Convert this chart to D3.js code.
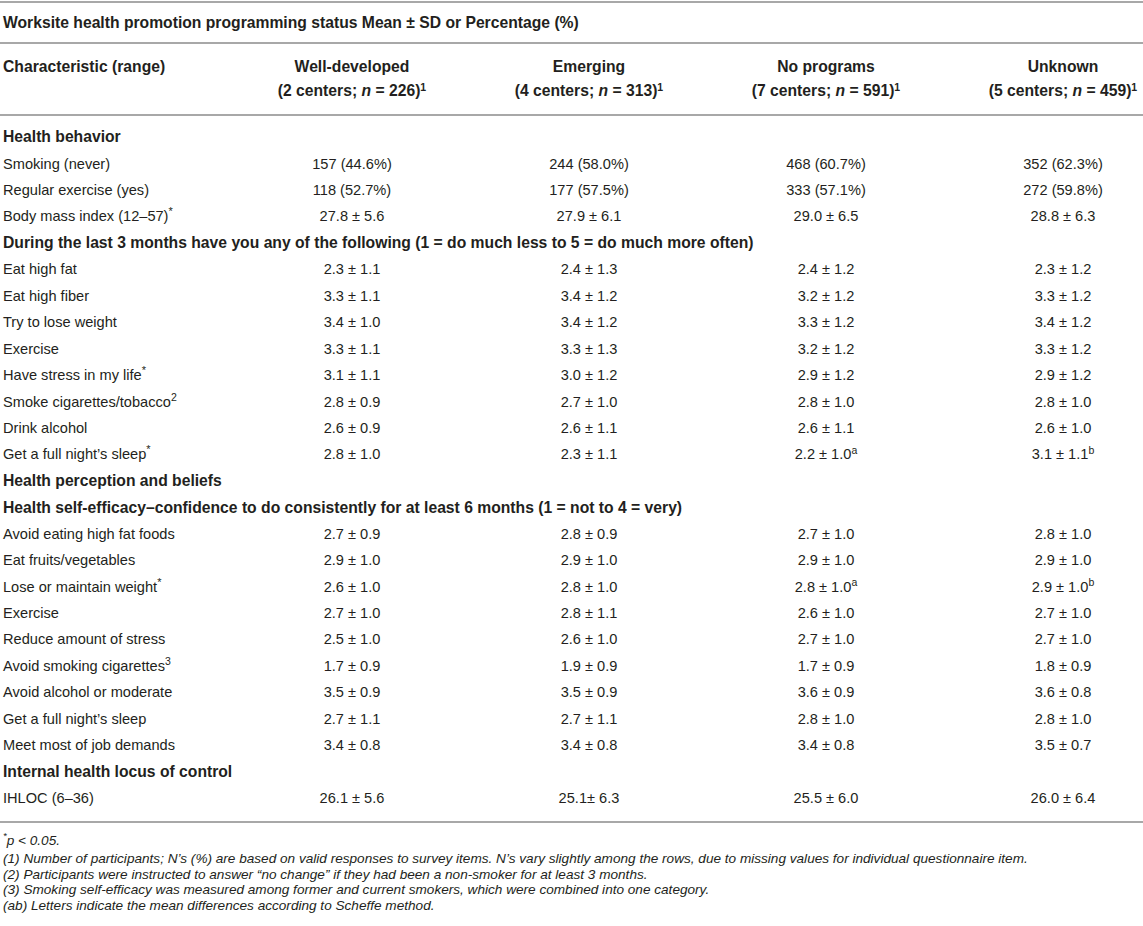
<!DOCTYPE html>
<html>
<head>
<meta charset="utf-8">
<script src="https://cdn.jsdelivr.net/npm/d3@7"></script>
<style>
  html, body { margin: 0; padding: 0; background: #fff; }
  svg { display: block; }
  text { font-family: "Liberation Sans", Arial, Helvetica, sans-serif; fill: #231f20; }
</style>
</head>
<body>
<svg id="chart" width="1143" height="926"></svg>
<script>
// ---------- data ----------
const title = "Worksite health promotion programming status Mean ± SD or Percentage (%)";
const groups = ["Well-developed", "Emerging", "No programs", "Unknown"];
const groupCenters = [2, 4, 7, 5];
const groupN = [226, 313, 591, 459];

const rowLabels = [
  "Health behavior",
  "Smoking (never)",
  "Regular exercise (yes)",
  "Body mass index (12–57)",
  "During the last 3 months have you any of the following (1 = do much less to 5 = do much more often)",
  "Eat high fat",
  "Eat high fiber",
  "Try to lose weight",
  "Exercise",
  "Have stress in my life",
  "Smoke cigarettes/tobacco",
  "Drink alcohol",
  "Get a full night’s sleep",
  "Health perception and beliefs",
  "Health self-efficacy–confidence to do consistently for at least 6 months (1 = not to 4 = very)",
  "Avoid eating high fat foods",
  "Eat fruits/vegetables",
  "Lose or maintain weight",
  "Exercise",
  "Reduce amount of stress",
  "Avoid smoking cigarettes",
  "Avoid alcohol or moderate",
  "Get a full night’s sleep",
  "Meet most of job demands",
  "Internal health locus of control",
  "IHLOC (6–36)"
];
// section header rows (bold, no values)
const sectionRows = [0, 4, 13, 14, 24];
// superscript marks on labels
const labelMarks = ["", "", "", "*", "", "", "", "", "", "*", "2", "", "*", "", "", "", "", "*", "", "", "3", "", "", "", "", ""];

const wellDeveloped = ["", "157 (44.6%)", "118 (52.7%)", "27.8 ± 5.6", "", "2.3 ± 1.1", "3.3 ± 1.1", "3.4 ± 1.0", "3.3 ± 1.1", "3.1 ± 1.1", "2.8 ± 0.9", "2.6 ± 0.9", "2.8 ± 1.0", "", "", "2.7 ± 0.9", "2.9 ± 1.0", "2.6 ± 1.0", "2.7 ± 1.0", "2.5 ± 1.0", "1.7 ± 0.9", "3.5 ± 0.9", "2.7 ± 1.1", "3.4 ± 0.8", "", "26.1 ± 5.6"];
const emerging      = ["", "244 (58.0%)", "177 (57.5%)", "27.9 ± 6.1", "", "2.4 ± 1.3", "3.4 ± 1.2", "3.4 ± 1.2", "3.3 ± 1.3", "3.0 ± 1.2", "2.7 ± 1.0", "2.6 ± 1.1", "2.3 ± 1.1", "", "", "2.8 ± 0.9", "2.9 ± 1.0", "2.8 ± 1.0", "2.8 ± 1.1", "2.6 ± 1.0", "1.9 ± 0.9", "3.5 ± 0.9", "2.7 ± 1.1", "3.4 ± 0.8", "", "25.1± 6.3"];
const noPrograms    = ["", "468 (60.7%)", "333 (57.1%)", "29.0 ± 6.5", "", "2.4 ± 1.2", "3.2 ± 1.2", "3.3 ± 1.2", "3.2 ± 1.2", "2.9 ± 1.2", "2.8 ± 1.0", "2.6 ± 1.1", "2.2 ± 1.0", "", "", "2.7 ± 1.0", "2.9 ± 1.0", "2.8 ± 1.0", "2.6 ± 1.0", "2.7 ± 1.0", "1.7 ± 0.9", "3.6 ± 0.9", "2.8 ± 1.0", "3.4 ± 0.8", "", "25.5 ± 6.0"];
const unknown       = ["", "352 (62.3%)", "272 (59.8%)", "28.8 ± 6.3", "", "2.3 ± 1.2", "3.3 ± 1.2", "3.4 ± 1.2", "3.3 ± 1.2", "2.9 ± 1.2", "2.8 ± 1.0", "2.6 ± 1.0", "3.1 ± 1.1", "", "", "2.8 ± 1.0", "2.9 ± 1.0", "2.9 ± 1.0", "2.7 ± 1.0", "2.7 ± 1.0", "1.8 ± 0.9", "3.6 ± 0.8", "2.8 ± 1.0", "3.5 ± 0.7", "", "26.0 ± 6.4"];
// Scheffe letters
const noProgramsMarks = {12: "a", 17: "a"};
const unknownMarks    = {12: "b", 17: "b"};

const footnotes = [
  "(1) Number of participants; N’s (%) are based on valid responses to survey items. N’s vary slightly among the rows, due to missing values for individual questionnaire item.",
  "(2) Participants were instructed to answer “no change” if they had been a non-smoker for at least 3 months.",
  "(3) Smoking self-efficacy was measured among former and current smokers, which were combined into one category.",
  "(ab) Letters indicate the mean differences according to Scheffe method."
];

// ---------- layout ----------
const W = 1143, H = 926;
const svg = d3.select("#chart");
const FB = 15.7, FS = 14.6, FN = 13.6;
const lineColor = "#a8a8a8";

const x = d3.scalePoint().domain(groups).range([352, 1063]);
const y = d3.scalePoint().domain(d3.range(rowLabels.length)).range([137, 798]);
const fy = d3.scalePoint().domain(d3.range(footnotes.length + 1)).range([843, 905]);

// rules
const rules = [2, 43, 115, 822];
svg.selectAll("line.rule").data(rules).join("line")
  .attr("class", "rule")
  .attr("x1", 0).attr("x2", W)
  .attr("y1", d => d).attr("y2", d => d)
  .attr("stroke", lineColor).attr("stroke-width", 2);

// title
svg.append("text").attr("x", 3).attr("y", 23).attr("dy", "0.35em")
  .attr("font-size", FB).attr("font-weight", "bold").text(title);

// header
svg.append("text").attr("x", 3).attr("y", 67).attr("dy", "0.35em")
  .attr("font-size", FB).attr("font-weight", "bold").text("Characteristic (range)");

const hdr = svg.selectAll("g.hdr").data(groups).join("g").attr("class", "hdr");
hdr.append("text").attr("x", d => x(d)).attr("y", 67).attr("dy", "0.35em")
  .attr("text-anchor", "middle").attr("font-size", FB).attr("font-weight", "bold")
  .text(d => d);
const h2 = hdr.append("text").attr("x", d => x(d)).attr("y", 91).attr("dy", "0.35em")
  .attr("text-anchor", "middle").attr("font-size", FB).attr("font-weight", "bold");
h2.append("tspan").text((d, i) => `(${groupCenters[i]} centers; `);
h2.append("tspan").attr("font-style", "italic").text("n");
h2.append("tspan").text((d, i) => ` = ${groupN[i]})`);
h2.append("tspan").attr("font-size", 10.5).attr("dy", "-0.5em").text("1");

// row labels
const lab = svg.selectAll("text.lab").data(rowLabels).join("text")
  .attr("class", "lab")
  .attr("x", 3).attr("y", (d, i) => y(i)).attr("dy", "0.35em")
  .attr("font-size", (d, i) => sectionRows.includes(i) ? FB : FS)
  .attr("font-weight", (d, i) => sectionRows.includes(i) ? "bold" : "normal")
  .attr("fill", (d, i) => sectionRows.includes(i) ? "#111" : "#333");
lab.append("tspan").text(d => d);
lab.append("tspan")
  .attr("font-size", (d, i) => labelMarks[i] === "*" ? 11 : 10.5)
  .attr("dy", (d, i) => labelMarks[i] ? "-0.55em" : 0)
  .text((d, i) => labelMarks[i]);

// values
const cols = [
  {g: groups[0], vals: wellDeveloped, marks: {}},
  {g: groups[1], vals: emerging, marks: {}},
  {g: groups[2], vals: noPrograms, marks: noProgramsMarks},
  {g: groups[3], vals: unknown, marks: unknownMarks}
];
cols.forEach(c => {
  const t = svg.append("g").selectAll("text").data(c.vals.map((v, i) => ({v, i})).filter(d => d.v))
    .join("text")
    .attr("x", x(c.g)).attr("y", d => y(d.i)).attr("dy", "0.35em")
    .attr("text-anchor", "middle").attr("font-size", FS).attr("fill", "#333");
  t.append("tspan").text(d => d.v);
  t.filter(d => c.marks[d.i]).append("tspan")
    .attr("font-size", 10.5).attr("dy", "-0.55em").text(d => c.marks[d.i]);
});

// footnotes
const f0 = svg.append("text").attr("x", 3).attr("y", fy(0)).attr("dy", "0.35em")
  .attr("font-size", FN).attr("font-style", "italic").attr("fill", "#333");
f0.append("tspan").attr("font-size", 9.5).attr("dy", "-0.4em").text("*");
f0.append("tspan").attr("dy", "0.4em").text("p < 0.05.");

svg.selectAll("text.fn").data(footnotes).join("text")
  .attr("class", "fn")
  .attr("x", 3).attr("y", (d, i) => fy(i + 1)).attr("dy", "0.35em")
  .attr("font-size", FN).attr("font-style", "italic").attr("fill", "#333")
  .text(d => d);
</script>
</body>
</html>
